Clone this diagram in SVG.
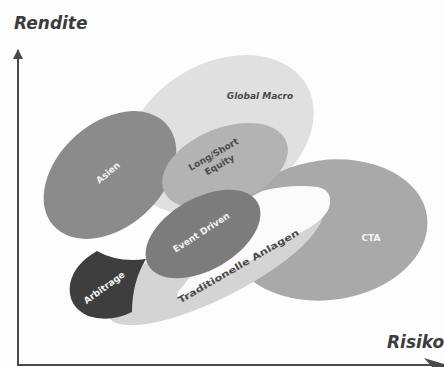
<svg xmlns="http://www.w3.org/2000/svg" width="444" height="367" viewBox="0 0 444 367">
<style>
.axis{stroke:#4a4a4a;stroke-width:2;fill:none}
.ax-label{font-family:"DejaVu Sans",sans-serif;font-weight:bold;font-style:italic;font-size:17px;fill:#3c3c3c}
.lbl{font-family:"DejaVu Sans",sans-serif;font-weight:bold;font-size:9px;text-anchor:middle}
.w{fill:#f4f4f4}
.d{fill:#4a4a4a}
</style>
<defs>
<marker id="arr" viewBox="0 0 10 10" refX="9" refY="5" markerWidth="5" markerHeight="5" orient="auto">
<path d="M0,0 L10,5 L0,10 Z" fill="#4a4a4a"/>
</marker>
</defs>
<rect width="444" height="367" fill="#fdfdfd"/>
<g id="axes">
<line class="axis" x1="18" y1="366" x2="18" y2="50" marker-end="url(#arr)"/>
<line class="axis" x1="18" y1="365" x2="443" y2="365"/>
<path d="M424,358 L444,364 L444,367 L432,367 Z" fill="#4a4a4a"/>
<text class="ax-label" x="14" y="29">Rendite</text>
<text class="ax-label" x="387" y="348">Risiko</text>
</g>
<g id="global-macro">
<ellipse cx="220" cy="135" rx="100" ry="72" transform="rotate(-30 220 135)" fill="#e0e0e0"/>
<text class="lbl d" x="260" y="99" font-style="italic" font-size="11">Global Macro</text>
</g>
<g id="asien">
<ellipse cx="110" cy="175" rx="76" ry="52" transform="rotate(-42 110 175)" fill="#8b8b8b"/>
<text class="lbl w" x="110" y="175" transform="rotate(-40 110 175)">Asien</text>
</g>
<g id="cta">
<ellipse cx="328" cy="230" rx="100" ry="70" transform="rotate(-8 328 230)" fill="#a9a9a9"/>
<text class="lbl w" x="371" y="241">CTA</text>
</g>
<g id="long-short-equity">
<ellipse cx="225" cy="166" rx="66" ry="38" transform="rotate(-22 225 166)" fill="#b3b3b3"/>
<text class="lbl d" font-size="10" transform="translate(215 157) rotate(-30)"><tspan x="0" y="0">Long/Short</tspan><tspan x="0" y="12">Equity</tspan></text>
</g>
<g id="traditionelle-anlagen">
<ellipse cx="215" cy="262" rx="120" ry="36" transform="rotate(-27 215 262)" fill="#d4d4d4"/>
<path d="M245,200 L262,191 Q290,184 318,187 Q334,191 329,208 Q324,221 296,235 L184,298 Q176,301 178,292 L220,240 Z" fill="#fbfbfb"/>
<text class="lbl d" font-size="10" x="0" y="0" textLength="138" lengthAdjust="spacingAndGlyphs" transform="translate(240 269) rotate(-30)">Traditionelle Anlagen</text>
</g>
<g id="event-driven">
<ellipse cx="203" cy="234" rx="63" ry="36" transform="rotate(-30 203 234)" fill="#7c7c7c"/>
<text class="lbl w" x="203" y="235" font-size="10" transform="rotate(-33 203 235)">Event Driven</text>
</g>
<g id="arbitrage">
<path d="M97,251 Q118,263 146,259 Q132,282 132,312 Q110,323 88,316 Q67,306 70,284 Q74,264 97,251 Z" fill="#3e3e3e"/>
<text class="lbl w" x="106" y="290" font-size="10" transform="rotate(-36 106 290)">Arbitrage</text>
</g>
</svg>
